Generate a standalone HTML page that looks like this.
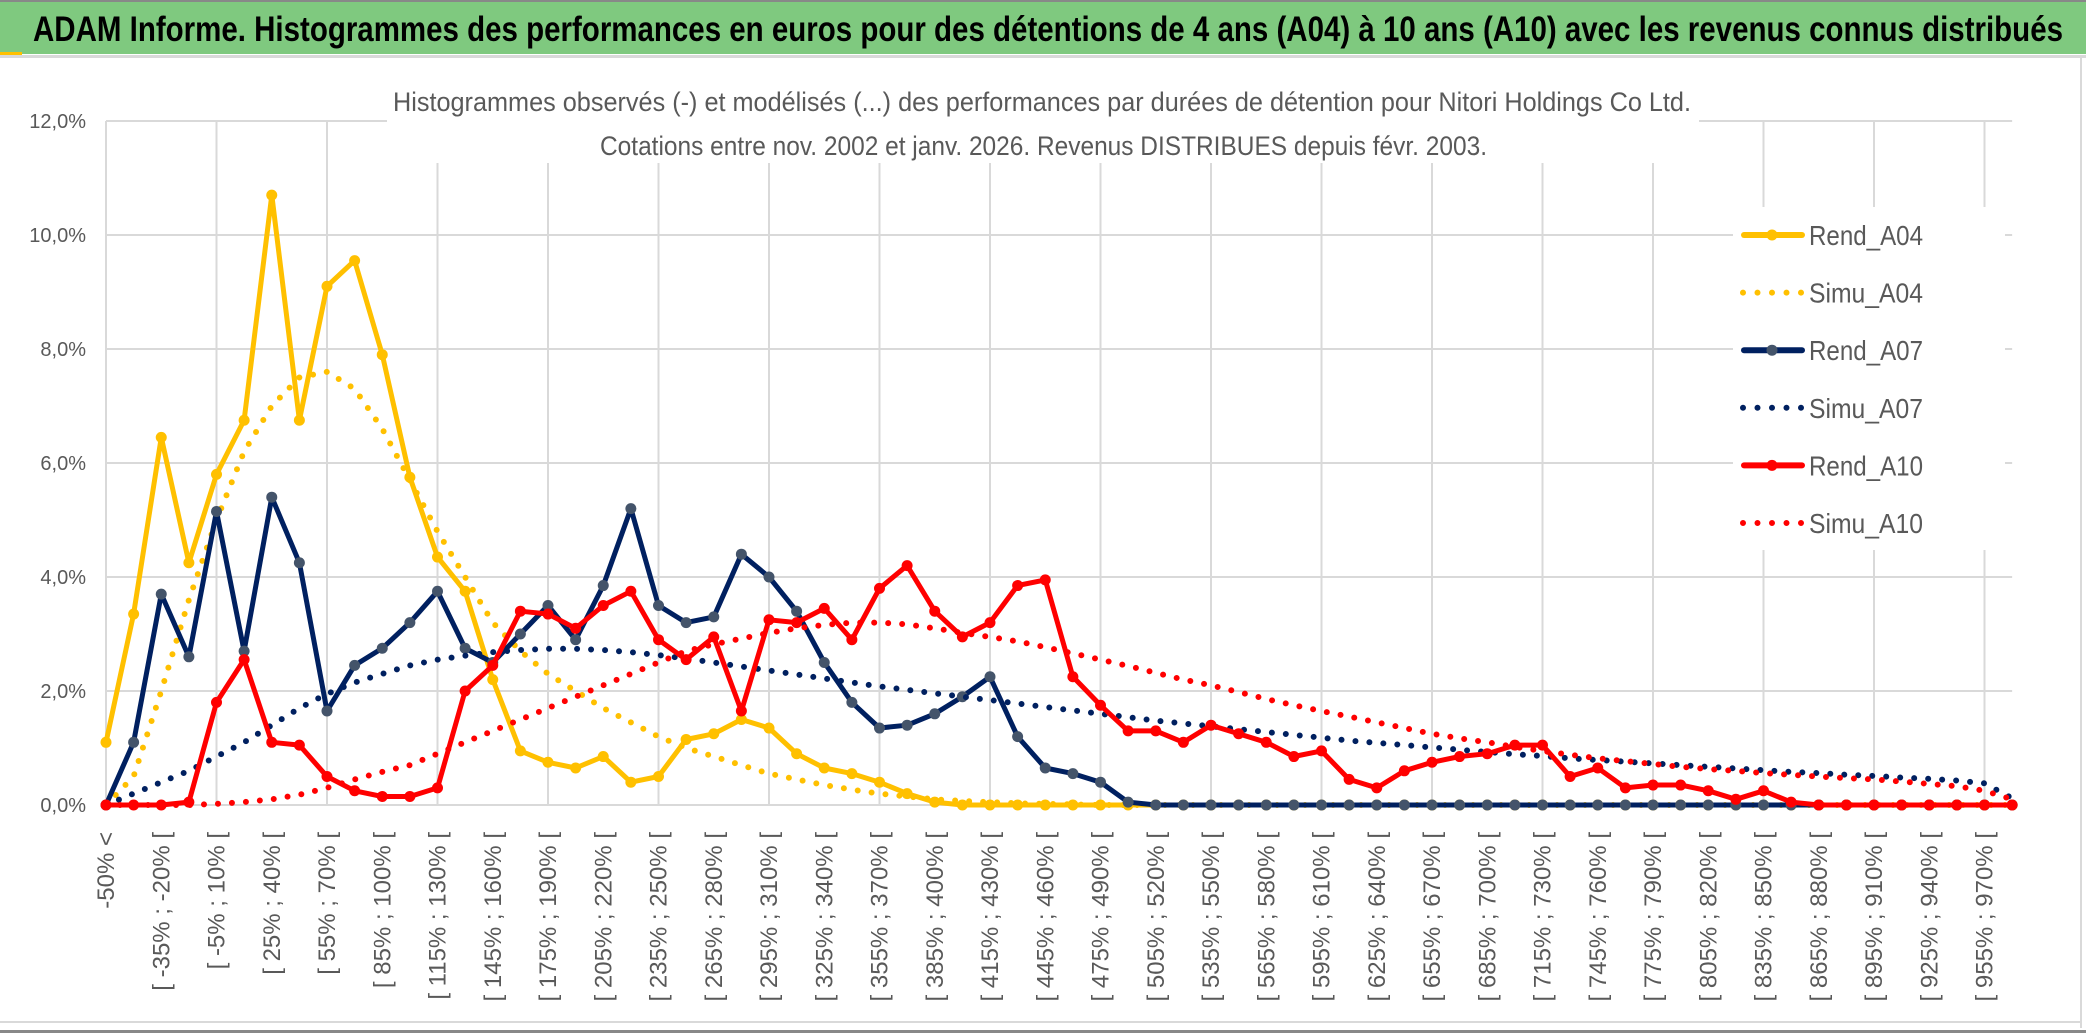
<!DOCTYPE html>
<html><head><meta charset="utf-8"><title>ADAM Informe</title>
<style>html,body{margin:0;padding:0;background:#fff;}svg{display:block;font-family:"Liberation Sans",sans-serif;}</style>
</head><body>
<svg id="chart" width="2086" height="1033" viewBox="0 0 2086 1033">
<rect x="0" y="0" width="2086" height="1033" fill="#fff"/>
<rect x="0" y="2" width="2086" height="52" fill="#7FC97F"/>
<rect x="0" y="0" width="2086" height="2" fill="#888"/>
<rect x="0" y="52" width="22" height="3" fill="#FFC000"/>
<rect x="0" y="55" width="2086" height="3" fill="#d9d9d9"/>
<text x="33" y="41" font-size="35" font-weight="bold" fill="#000" textLength="2030" lengthAdjust="spacingAndGlyphs">ADAM Informe. Histogrammes des performances en euros pour des détentions de 4 ans (A04) à 10 ans (A10) avec les revenus connus distribués</text>
<rect x="2080" y="58" width="2" height="970" fill="#d9d9d9"/>
<rect x="0" y="1021" width="2082" height="2" fill="#d9d9d9"/>
<rect x="0" y="1030" width="2086" height="3" fill="#888"/>
<g id="grid"></g>
<g id="yaxis"></g>
<g id="xaxis"></g>
<rect x="387" y="80" width="1312" height="83" fill="#fff"/>
<text x="393" y="111" font-size="27" fill="#595959" textLength="1298" lengthAdjust="spacingAndGlyphs">Histogrammes observés (-) et modélisés (...) des performances par durées de détention pour Nitori Holdings Co Ltd.</text>
<text x="600" y="155" font-size="27" fill="#595959" textLength="887" lengthAdjust="spacingAndGlyphs">Cotations entre nov. 2002 et janv. 2026. Revenus DISTRIBUES depuis févr. 2003.</text>
<g id="series"></g>
<rect x="1733" y="207" width="272" height="343" fill="#fff"/>
<g id="legend"></g>
</svg>
<script>
const rendA04 = [1.1,3.35,6.45,4.25,5.8,6.75,10.7,6.75,9.1,9.55,7.9,5.75,4.35,3.75,2.2,0.95,0.75,0.65,0.85,0.4,0.5,1.15,1.25,1.5,1.35,0.9,0.65,0.55,0.4,0.2,0.05,0,0,0,0,0,0,0,0,0,0,0,0,0,0,0,0,0,0,0,0,0,0,0,0,0,0,0,0,0,0,0,0,0,0,0,0,0,0,0];
const simuA04 = [0,0.5,2.0,3.6,5.0,6.2,7.0,7.5,7.6,7.3,6.6,5.7,4.8,4.0,3.2,2.7,2.3,2.0,1.7,1.45,1.2,1.0,0.85,0.7,0.55,0.45,0.35,0.27,0.2,0.15,0.1,0.07,0.05,0.03,0.02,0.01,0,0,0,0,0,0,0,0,0,0,0,0,0,0,0,0,0,0,0,0,0,0,0,0,0,0,0,0,0,0,0,0,0,0];
const rendA07 = [0,1.1,3.7,2.6,5.15,2.7,5.4,4.25,1.65,2.45,2.75,3.2,3.75,2.75,2.5,3.0,3.5,2.9,3.85,5.2,3.5,3.2,3.3,4.4,4.0,3.4,2.5,1.8,1.35,1.4,1.6,1.9,2.25,1.2,0.65,0.55,0.4,0.05,0,0,0,0,0,0,0,0,0,0,0,0,0,0,0,0,0,0,0,0,0,0,0,0,0,0,0,0,0,0,0,0];
const simuA07 = [0,0.2,0.4,0.6,0.85,1.1,1.4,1.7,1.95,2.15,2.3,2.45,2.55,2.62,2.68,2.72,2.74,2.74,2.72,2.68,2.63,2.57,2.5,2.43,2.36,2.29,2.22,2.15,2.08,2.02,1.96,1.9,1.84,1.78,1.72,1.66,1.6,1.54,1.48,1.43,1.38,1.33,1.28,1.23,1.18,1.13,1.09,1.05,1.01,0.97,0.93,0.89,0.86,0.82,0.79,0.76,0.73,0.7,0.67,0.64,0.61,0.58,0.56,0.53,0.51,0.48,0.46,0.43,0.38,0.12];
const rendA10 = [0,0,0,0.05,1.8,2.55,1.1,1.05,0.5,0.25,0.15,0.15,0.3,2.0,2.45,3.4,3.35,3.1,3.5,3.75,2.9,2.55,2.95,1.65,3.25,3.2,3.45,2.9,3.8,4.2,3.4,2.95,3.2,3.85,3.95,2.25,1.75,1.3,1.3,1.1,1.4,1.25,1.1,0.85,0.95,0.45,0.3,0.6,0.75,0.85,0.9,1.05,1.05,0.5,0.65,0.3,0.35,0.35,0.25,0.1,0.25,0.05,0,0,0,0,0,0,0,0];
const simuA10 = [0,0,0,0,0.02,0.05,0.1,0.18,0.3,0.45,0.58,0.7,0.9,1.1,1.3,1.5,1.7,1.9,2.1,2.3,2.5,2.7,2.82,2.92,3.02,3.1,3.16,3.2,3.2,3.17,3.1,3.02,2.95,2.87,2.77,2.66,2.55,2.44,2.32,2.2,2.1,1.98,1.86,1.75,1.65,1.55,1.45,1.35,1.25,1.17,1.1,1.02,0.95,0.88,0.82,0.77,0.72,0.67,0.63,0.6,0.56,0.53,0.5,0.47,0.45,0.41,0.37,0.33,0.25,0.1];
const yTicks = [0,2,4,6,8,10,12];
const yTickLabels = ["0,0%","2,0%","4,0%","6,0%","8,0%","10,0%","12,0%"];
const seriesNames = ["Rend_A04","Simu_A04","Rend_A07","Simu_A07","Rend_A10","Simu_A10"];

const NS = "http://www.w3.org/2000/svg";
const X0 = 106, STEP = 27.625, Y0 = 805, PXPCT = 57;
const nCat = rendA04.length;
function xPos(i){ return X0 + i*STEP; }
function yPos(v){ return Y0 - v*PXPCT; }
function catLabel(i){
  if(i===0) return "-50% <";
  const a = -50 + 15*(i-1), b = a + 15;
  return "[ " + a + "% ; " + b + "% [";
}
function mk(tag, attrs, parent){
  const e = document.createElementNS(NS, tag);
  for(const k in attrs) e.setAttribute(k, attrs[k]);
  parent.appendChild(e);
  return e;
}
const grid = document.getElementById('grid');
const yaxis = document.getElementById('yaxis');
const xaxis = document.getElementById('xaxis');
const seriesG = document.getElementById('series');
const legend = document.getElementById('legend');
const xEnd = xPos(nCat-1);

yTicks.forEach((t, k) => {
  const l = mk('line', {x1:X0, x2:xEnd, y1:yPos(t), y2:yPos(t), stroke:'#d9d9d9', 'stroke-width':2}, grid);
  
  
  const tx = mk('text', {x:86, y:yPos(t)+7, 'font-size':20, fill:'#595959', 'text-anchor':'end'}, yaxis);
  tx.textContent = yTickLabels[k];
  
  
});
for(let i=0;i<nCat;i+=4){
  const l = mk('line', {x1:xPos(i), x2:xPos(i), y1:yPos(12), y2:Y0, stroke:'#d9d9d9', 'stroke-width':2}, grid);
  
  
}
for(let i=0;i<nCat;i+=2){
  const x = xPos(i)+8, y = 832;
  const tx = mk('text', {x:x, y:y, 'font-size':24, fill:'#595959', 'text-anchor':'end', transform:'rotate(-90 '+x+' '+y+')'}, xaxis);
  tx.textContent = catLabel(i);
  
  
}

function pathD(arr){ return arr.map((v,i)=>(i?'L':'M')+xPos(i).toFixed(1)+' '+yPos(v).toFixed(1)).join(' '); }
function drawSolid(arr, color, mcol, name){
  const g = mk('g', {}, seriesG);
  
  
  mk('path', {d:pathD(arr), fill:'none', stroke:color, 'stroke-width':5, 'stroke-linejoin':'round', 'stroke-linecap':'round'}, g);
  arr.forEach((v,i)=>{
    const c = mk('circle', {cx:xPos(i), cy:yPos(v), r:5.5, fill:mcol}, g);
    
    
  });
}
function drawDotted(arr, color, name){
  const p = mk('path', {d:pathD(arr), fill:'none', stroke:color, 'stroke-width':6, 'stroke-linecap':'round', 'stroke-dasharray':'0 14'}, seriesG);
  
  
}
drawSolid(rendA04, '#FFC000', '#FFC000', 'series-rend-a04');
drawDotted(simuA04, '#FFC000', 'series-simu-a04');
drawSolid(rendA07, '#002060', '#44546A', 'series-rend-a07');
drawDotted(simuA07, '#002060', 'series-simu-a07');
drawSolid(rendA10, '#FF0000', '#FF0000', 'series-rend-a10');
drawDotted(simuA10, '#FF0000', 'series-simu-a10');

const legColors = ['#FFC000','#FFC000','#002060','#002060','#FF0000','#FF0000'];
const legMarker = ['#FFC000',null,'#44546A',null,'#FF0000',null];
seriesNames.forEach((n,k)=>{
  const y = 235 + k*57.6;
  const g = mk('g', {}, legend);
  
  
  if(k%2===0){
    mk('line', {x1:1744, x2:1802, y1:y, y2:y, stroke:legColors[k], 'stroke-width':6, 'stroke-linecap':'round'}, g);
    mk('circle', {cx:1772, cy:y, r:5.5, fill:legMarker[k]}, g);
  } else {
    mk('line', {x1:1743, x2:1803, y1:y, y2:y, stroke:legColors[k], 'stroke-width':6, 'stroke-linecap':'round', 'stroke-dasharray':'0 14.5'}, g);
  }
  const t = mk('text', {x:1809, y:y+10, 'font-size':28, fill:'#595959', textLength:114, lengthAdjust:'spacingAndGlyphs'}, g);
  t.textContent = n;
});
</script>
</body></html>
